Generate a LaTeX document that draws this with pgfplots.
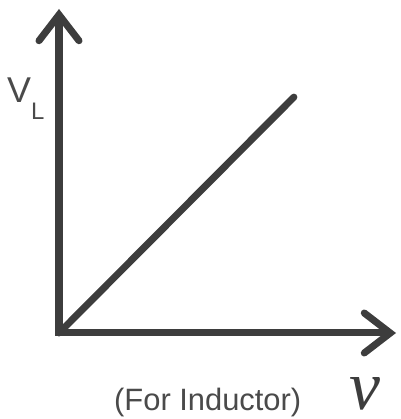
\documentclass[border=0pt]{standalone}
\usepackage{fontspec}
\setmainfont{Liberation Sans}
\newfontfamily\serifit{Liberation Serif}[ItalicFont={* Italic}]
\usepackage{pgfplots}
\pgfplotsset{compat=1.18}
\usetikzlibrary{arrows.meta}
\definecolor{ink}{HTML}{3D3D3D}
\definecolor{txt}{HTML}{4A4A4A}
\begin{document}
\begin{tikzpicture}[x=1bp,y=1bp]
\useasboundingbox (0,0) rectangle (401,419);
\begin{axis}[
  at={(59bp,86bp)}, anchor=south west,
  scale only axis, width=337bp, height=324bp,
  xmin=0, xmax=10, ymin=0, ymax=10,
  axis lines=left,
  axis line style={ink, line width=7bp, line cap=rect, -{Straight Barb[length=26bp, width=40bp, line width=7bp, line cap=round, line join=miter]}},
  ticks=none, clip=false,
]
\addplot[ink, line width=7bp, line cap=round] coordinates {(0,0) (6.97,7.28)};
\end{axis}
\node[anchor=base west, inner sep=0, txt, font=\fontsize{36}{36}\selectfont] at (7,317) {V};
\node[anchor=base west, inner sep=0, txt, font=\fontsize{24}{24}\selectfont] at (31,300) {L};
\node[anchor=base west, inner sep=0, txt, font=\fontsize{31}{31}\selectfont] at (114,9) {(For Inductor)};
\node[anchor=base west, inner sep=0, ink, font=\fontsize{70}{70}\selectfont] at (349,10) {\serifit\itshape ν};
\end{tikzpicture}
\end{document}
